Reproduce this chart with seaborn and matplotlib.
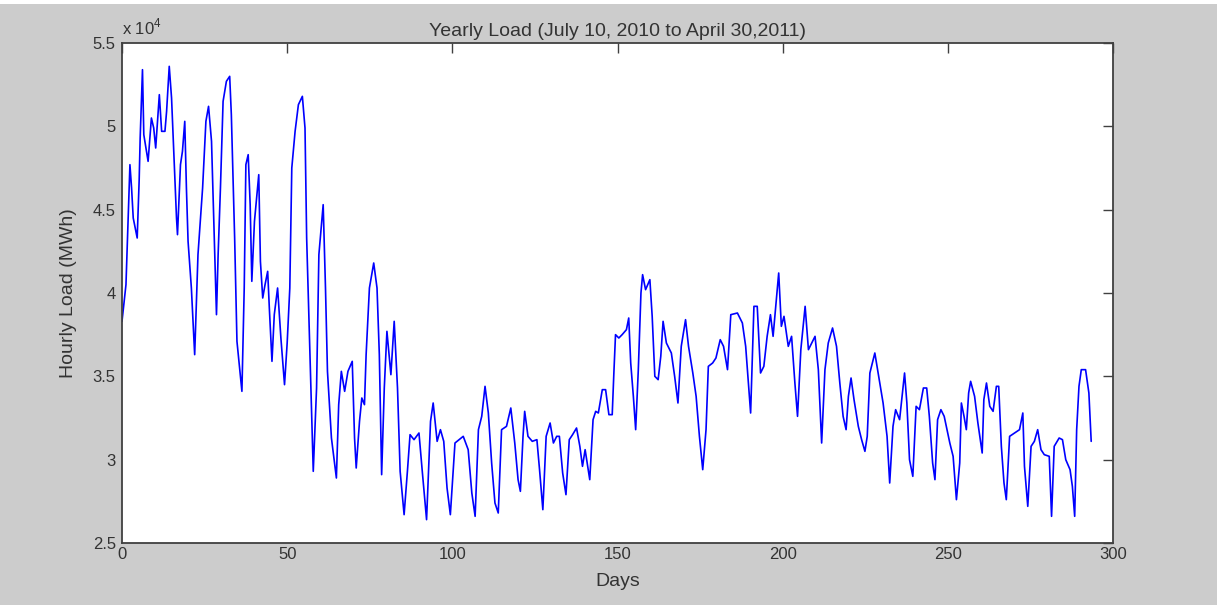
import matplotlib
matplotlib.use("Agg")
import matplotlib.pyplot as plt
import seaborn as sns
import pandas as pd
from matplotlib.ticker import FuncFormatter
from matplotlib.patches import Rectangle

days = [
    0.0, 1.2, 2.4, 2.9, 3.4, 4.6, 5.2, 5.5, 6.2, 6.6, 7.9, 8.9, 9.6, 10.2, 11.3, 12.0, 13.0, 13.5,
    14.3, 15.0, 15.7, 16.5, 16.8, 17.7, 18.3, 19.0, 19.5, 20.0, 21.0, 22.0, 23.0, 24.4, 25.4, 26.2,
    27.1, 27.8, 28.6, 29.1, 29.8, 30.6, 31.6, 32.6, 33.1, 33.6, 34.1, 34.8, 36.3, 37.0, 37.5, 38.2,
    38.8, 39.3, 40.1, 41.4, 41.9, 42.6, 43.3, 44.1, 44.6, 45.4, 46.1, 47.1, 48.1, 49.2,
    50.0, 50.8, 51.4, 52.4, 53.4, 54.6, 55.4, 55.9, 56.9, 57.9, 58.9, 59.6, 60.9, 61.6, 62.2, 63.4,
    64.9, 65.6, 66.4, 67.4, 68.4, 69.7, 70.4, 70.9, 71.9, 72.6, 73.4, 73.9, 74.9, 76.2, 77.2, 77.9,
    78.6, 79.4, 80.2, 81.4, 82.4, 83.4, 84.2, 85.4, 86.4, 87.2, 88.4, 89.9, 90.9, 92.2, 93.4, 94.2,
    95.4, 96.4, 97.4, 98.4, 99.4,
    100.8, 103.3, 104.8, 105.9, 106.9, 107.9, 108.9, 109.9, 110.9, 111.9, 112.9, 113.9, 114.9,
    116.4, 117.7, 118.9, 119.9, 120.6, 121.4, 121.9, 122.9, 124.2, 125.6, 126.4, 127.4, 128.4,
    129.6, 130.6, 131.6, 132.4, 133.4, 134.4, 135.4, 136.4, 137.6, 138.6, 139.4, 140.2, 141.6,
    142.6, 143.4, 144.2, 145.4, 146.4, 147.4, 148.4, 148.9, 149.4, 150.4, 151.4,
    152.7, 153.4, 154.0, 154.8, 155.5, 156.3, 157.1, 157.6, 158.5, 159.8, 160.5, 161.3, 162.3,
    163.1, 163.8, 164.8, 166.3, 167.3, 168.3, 169.3, 170.6, 171.5, 172.8, 173.8, 174.8, 175.8,
    176.8, 177.5, 178.8, 179.8, 181.1, 182.1, 183.3, 184.3, 186.3, 187.8, 188.8, 190.3, 191.3,
    192.3, 193.3, 194.3, 195.3, 196.3, 197.1, 198.8, 199.6, 200.4,
    201.7, 202.7, 203.7, 204.5, 205.5, 206.8, 207.8, 208.8, 209.8, 210.8, 211.8, 212.8, 213.8,
    215.1, 216.3, 217.3, 218.3, 219.2, 219.9, 220.7, 221.6, 222.9, 223.9, 224.9, 225.6, 226.4,
    227.9, 228.9, 230.4, 231.6, 232.4, 233.4, 234.2, 235.4, 236.9, 237.6, 238.4, 239.4, 240.4,
    241.4, 242.6, 243.6, 244.4, 245.4, 246.1, 246.9, 247.9, 248.9,
    250.6, 251.6, 252.6, 253.6, 254.1, 254.9, 255.6, 256.3, 256.9, 258.1, 259.1, 260.4, 260.9,
    261.7, 262.7, 263.7, 264.7, 265.4, 266.2, 267.0, 267.7, 268.7, 270.2, 271.7, 272.7, 273.2,
    274.2, 275.2, 276.2, 277.2, 278.2, 279.2, 280.7, 281.4, 282.2, 283.7, 284.7, 285.7, 287.0,
    287.7, 288.4, 289.0, 289.7, 290.4, 291.7, 292.7, 293.4,
]

load = [
    38300, 40500, 47700, 46300, 44500, 43300, 46800, 49300, 53400, 49500, 47900, 50500, 49900,
    48700, 51900, 49700, 49700, 50900, 53600, 51700, 48300, 44500, 43500, 47700, 48500, 50300,
    46300, 43100, 40300, 36300, 42300, 46300, 50300, 51200, 49100, 44300, 38700, 42300, 46300,
    51500, 52700, 53000, 50700, 46900, 43300, 37100, 34100, 40300, 47700, 48300, 45300, 40700,
    44300, 47100, 41900, 39700, 40500, 41300, 39100, 35900, 38700, 40300, 37300, 34500,
    37000, 40300, 47500, 49700, 51300, 51800, 49900, 43300, 36300, 29300, 34300, 42300, 45300,
    40300, 35300, 31300, 28900, 33300, 35300, 34100, 35300, 35900, 31300, 29500, 32300, 33700,
    33300, 36300, 40300, 41800, 40300, 36300, 29100, 34300, 37700, 35100, 38300, 34300, 29300,
    26700, 29300, 31500, 31200, 31600, 29300, 26400, 32300, 33400, 31100, 31800, 31100, 28300,
    26700,
    31000, 31400, 30600, 28000, 26600, 31800, 32600, 34400, 32800, 29800, 27400, 26800, 31800,
    32000, 33100, 31000, 28800, 28100, 31400, 32900, 31400, 31100, 31200, 29400, 27000, 31400,
    32200, 31000, 31400, 31400, 29200, 27900, 31200, 31500, 31900, 30800, 29600, 30600, 28800,
    32400, 32900, 32800, 34200, 34200, 32700, 32700, 35200, 37500, 37300, 37500,
    37800, 38500, 35800, 33800, 31800, 35400, 40000, 41100, 40200, 40800, 38600, 35000, 34800,
    36200, 38300, 37000, 36400, 35000, 33400, 36800, 38400, 36800, 35200, 33800, 31400, 29400,
    31800, 35600, 35800, 36100, 37200, 36800, 35400, 38700, 38800, 38200, 36800, 32800, 39200,
    39200, 35200, 35600, 37400, 38700, 37400, 41200, 38000, 38600,
    36800, 37400, 34600, 32600, 36600, 39200, 36600, 37000, 37400, 35400, 31000, 35400, 37000,
    37900, 36800, 34600, 32600, 31800, 33800, 34900, 33600, 32000, 31200, 30500, 31400, 35200,
    36400, 35200, 33400, 31400, 28600, 32000, 33000, 32400, 35200, 33400, 30000, 29000, 33200,
    33000, 34300, 34300, 32600, 29800, 28800, 32400, 33000, 32600,
    31000, 30200, 27600, 29800, 33400, 32600, 31800, 34000, 34700, 33800, 32200, 30400, 33600,
    34600, 33200, 32900, 34400, 34400, 30800, 28600, 27600, 31400, 31600, 31800, 32800, 29600,
    27200, 30800, 31100, 31800, 30600, 30300, 30200, 26600, 30800, 31300, 31200, 30000, 29400,
    28400, 26600, 31800, 34400, 35400, 35400, 34000, 31100,
]

x_ticks = [0, 50, 100, 150, 200, 250, 300]
y_ticks = [25000, 30000, 35000, 40000, 45000, 50000, 55000]

title = "Yearly Load (July 10, 2010 to April 30,2011)"
x_label = "Days"
y_label = "Hourly Load (MWh)"

df = pd.DataFrame({"Days": days, "Load": load})

sns.set_style("white")
plt.rcParams["font.family"] = ["Liberation Sans", "DejaVu Sans"]
plt.rcParams["mathtext.fontset"] = "custom"
plt.rcParams["mathtext.rm"] = "Liberation Sans"

fig = plt.figure(figsize=(12.17, 6.05), dpi=100)
fig.patch.set_facecolor("#cccccc")
fig.add_artist(Rectangle((0, 1 - 4 / 605), 1, 4 / 605, transform=fig.transFigure,
                         facecolor="white", edgecolor="none"))
ax = fig.add_axes([122 / 1217, 62 / 605, 991 / 1217, 500 / 605])
ax.set_facecolor("white")

sns.lineplot(data=df, x="Days", y="Load", ax=ax, color="#0000ff", linewidth=1.2,
             estimator=None, sort=False)

ax.set_xlim(0, 300)
ax.set_ylim(25000, 55000)
ax.set_xticks(x_ticks)
ax.set_yticks(y_ticks)
ax.xaxis.set_major_formatter(FuncFormatter(lambda v, p: f"{v:g}"))
ax.yaxis.set_major_formatter(FuncFormatter(lambda v, p: f"{v / 1e4:g}"))

txt_color = "#333333"
ax.tick_params(direction="in", length=7.5, width=1, colors="#404040", labelcolor=txt_color,
               labelsize=12, top=True, right=True)
ax.tick_params(axis="y", pad=4.5)
ax.tick_params(axis="x", pad=3)
for s in ax.spines.values():
    s.set_color("#404040")
    s.set_linewidth(1.3)
    s.set_visible(True)

ax.set_title(title, fontsize=14, color=txt_color, pad=5)
ax.set_xlabel(x_label, fontsize=14, color=txt_color, labelpad=8)
ax.set_ylabel(y_label, fontsize=14, color=txt_color, labelpad=11)
ax.annotate("x 10$^4$", xy=(0, 1), xycoords="axes fraction", xytext=(0, 4),
            textcoords="offset points", fontsize=12, color=txt_color,
            ha="left", va="bottom")
ax.grid(False)

fig.savefig("out.png", dpi=100, facecolor=fig.get_facecolor())
